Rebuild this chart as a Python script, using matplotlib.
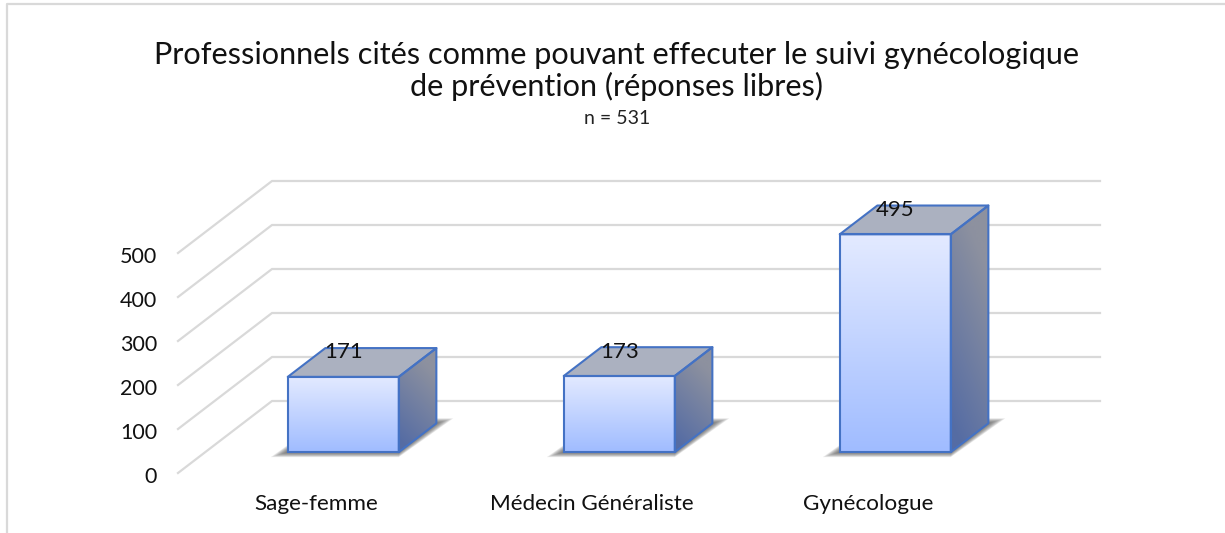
import matplotlib
matplotlib.use('Agg')
import matplotlib.pyplot as plt
from matplotlib.patches import Polygon
from matplotlib.transforms import ScaledTranslation
import numpy as np

categories = ['Sage-femme', 'Médecin Généraliste', 'Gynécologue']
values = [171, 173, 495]
value_ticks = [0, 100, 200, 300, 400, 500]

title = 'Professionnels cités comme pouvant effecuter le suivi gynécologique\nde prévention (réponses libres)'
subtitle = 'n = 531'

W, H = 1225, 533
plt.rcParams['font.family'] = ['Lato', 'DejaVu Sans']

fig = plt.figure(figsize=(W / 100, H / 100), dpi=100)
# front plane of the 3d box, in pixels
left, right, bottom, top = 178, 1006, 473, 253
ax = fig.add_axes([left / W, 1 - bottom / H, (right - left) / W, (bottom - top) / H])
ax.set_xlim(-0.5, 2.5)
ax.set_ylim(0, 500)
ax.patch.set_alpha(0)
for s in ax.spines.values():
    s.set_visible(False)

x_per_px = 3 / (right - left)
y_per_px = 500 / (bottom - top)
depth_x = 94 * x_per_px
depth_y = 72 * y_per_px


def proj(x, v, d):
    return x + d * depth_x, v + d * depth_y


# walls
for v in value_ticks:
    x0, y0 = proj(-0.5, v, 0)
    x1, y1 = proj(-0.5, v, 1)
    x2, y2 = proj(2.5, v, 1)
    ax.plot([x0, x1, x2], [y0, y1, y2], color='#d9d9d9', lw=1.6, clip_on=False, zorder=1,
            solid_joinstyle='miter')

half = 55.5 * x_per_px
d0, d1 = 0.29, 0.69

for i, v in enumerate(values):
    xl, xr = i - half, i + half

    # soft shadow on the floor
    for k in range(10):
        grow = (10 - k) * 1.7 * x_per_px
        gy = (10 - k) * 0.5 * y_per_px
        pts = [proj(xl - grow, -gy, d0), proj(xr, -gy, d0),
               proj(xr + grow, gy, d1), proj(xl, gy, d1)]
        ax.add_patch(Polygon(pts, closed=True, fc='#404040', ec='none', alpha=0.1,
                             clip_on=False, zorder=2))

    # side face
    side = [proj(xr, 0, d0), proj(xr, 0, d1), proj(xr, v, d1), proj(xr, v, d0)]
    sx0, sy0 = proj(xr, 0, d0)
    sx1, sy1 = proj(xr, v, d1)
    c_top = np.array([0x8d, 0x91, 0x9f]) / 255
    c_bot = np.array([0x55, 0x6c, 0xa4]) / 255
    t = np.linspace(0, 1, 64)[:, None, None]
    u = np.linspace(0, 0.35, 16)[None, :, None]
    grad = np.clip(t + u - 0.1, 0, 1)
    side_img = c_top * grad + c_bot * (1 - grad)
    im = ax.imshow(side_img, extent=[sx0, sx1, sy0, sy1], origin='lower',
                   aspect='auto', zorder=3, interpolation='bilinear')
    clip = Polygon(side, closed=True, transform=ax.transData, fc='none', ec='none')
    im.set_clip_path(clip)
    im.set_clip_box(fig.bbox)

    # front face
    c_hi = np.array([0xe3, 0xea, 0xff]) / 255
    c_lo = np.array([0xa0, 0xbc, 0xff]) / 255
    t = np.linspace(0, 1, 64)[:, None, None]
    front_img = c_lo * (1 - t) + c_hi * t
    fx0, fy0 = proj(xl, 0, d0)
    fx1, fy1 = proj(xr, v, d0)
    ax.imshow(front_img, extent=[fx0, fx1, fy0, fy1], origin='lower', aspect='auto', zorder=4,
              interpolation='bilinear', clip_on=False)

    # top face
    top_face = [proj(xl, v, d0), proj(xr, v, d0), proj(xr, v, d1), proj(xl, v, d1)]
    ax.add_patch(Polygon(top_face, closed=True, fc='#abb1c0', ec='#4472c4', lw=1.5,
                         clip_on=False, zorder=5, joinstyle='round'))
    ax.add_patch(Polygon(side, closed=True, fc='none', ec='#4472c4', lw=1.5,
                         clip_on=False, zorder=5, joinstyle='round'))
    ax.add_patch(Polygon([proj(xl, 0, d0), proj(xr, 0, d0), proj(xr, v, d0), proj(xl, v, d0)],
                         closed=True, fc='none', ec='#4472c4', lw=1.5, clip_on=False, zorder=5))

    lx, ly = proj(i, v, d0)
    ax.annotate(str(v), (lx, ly), xytext=(0, 24.5 * 0.72), textcoords='offset points',
                ha='center', va='center', fontsize=16, color='#111111', zorder=6,
                annotation_clip=False)

ax.set_xlim(-0.5, 2.5)
ax.set_ylim(0, 500)

ax.set_xticks(range(len(categories)))
ax.set_xticklabels(categories, fontsize=16.2, color='#111111')
ax.set_yticks(value_ticks)
ax.set_yticklabels([str(v) for v in value_ticks], fontsize=15.5, color='#111111')
ax.tick_params(axis='x', length=0, pad=15)
ax.tick_params(axis='y', length=0, pad=15)
shift = ScaledTranslation(0, -2 / 100, fig.dpi_scale_trans)
for lab in ax.get_yticklabels():
    lab.set_transform(lab.get_transform() + shift)

fig.text(616.5 / W, 1 - 71 / H, title, ha='center', va='center', fontsize=22.1, color='#111111',
         linespacing=1.15)
fig.text(617 / W, 1 - 119 / H, subtitle, ha='center', va='center', fontsize=14, color='#222222')

# chart frame, only left and top are in the crop
fig.add_artist(plt.Line2D([7 / W, 7 / W, 1], [0, 1 - 4 / H, 1 - 4 / H], color='#d9d9d9', lw=1.6))

fig.savefig('out.png', dpi=100)
